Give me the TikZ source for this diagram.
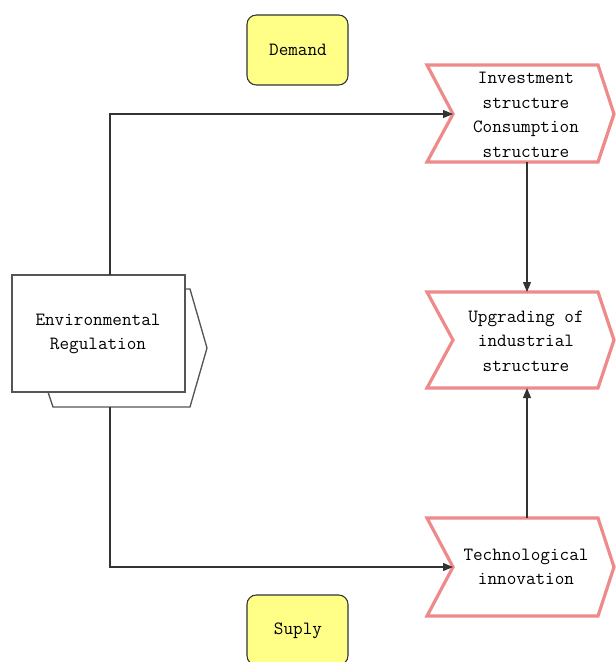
\documentclass[tikz,border=0pt]{standalone}
\usepackage{fontspec}
\usetikzlibrary{arrows.meta}
\definecolor{chevpink}{HTML}{EE8A8A}
\definecolor{boxyellow}{HTML}{FFFF88}
\definecolor{linegray}{HTML}{333333}
\definecolor{ergray}{HTML}{555555}
\tikzset{
  lbl/.style={font=\ttfamily\fontsize{14}{18.5}\selectfont, align=center, inner sep=0pt},
  chev/.style={draw=chevpink, line width=2.4pt, fill=white, line join=miter},
  ybox/.style={draw=linegray, line width=0.8pt, fill=boxyellow, rounded corners=7pt},
  conn/.style={draw=linegray, line width=0.8pt, -{Triangle[length=7.5pt,width=6pt]}},
  plain/.style={draw=ergray, line width=1pt},
}
\begin{document}
\begin{tikzpicture}[x=0.75pt,y=-0.75pt]
\useasboundingbox (0,0) rectangle (616,662);
\fill[white] (0,0) rectangle (616,662);

% yellow boxes
\draw[ybox] (247,15) rectangle (348,85);
\node[lbl] (demand) at (298,50) {Demand};
\draw[ybox] (247,595) rectangle (348,665);
\node[lbl] (suply) at (298,631) {Suply};

% chevrons
\draw[chev] (427,65) -- (598,65) -- (614,114) -- (598,162) -- (427,162) -- (453,114) -- cycle;
\node[lbl] (inv) at (526,115) {Investment\\structure\\Consumption\\structure};
\coordinate (invN) at (453,114);
\coordinate (invB) at (527,162);

\draw[chev] (427,292) -- (598,292) -- (614,340) -- (598,388) -- (427,388) -- (453,340) -- cycle;
\node[lbl] (upg) at (526,341) {Upgrading of\\industrial\\structure};
\coordinate (upgT) at (527,292);
\coordinate (upgB) at (527,388);

\draw[chev] (427,518) -- (598,518) -- (614,567) -- (598,616) -- (427,616) -- (453,567) -- cycle;
\node[lbl] (tech) at (526,567) {Technological\\innovation};
\coordinate (techN) at (453,567);
\coordinate (techT) at (527,518);

% environmental regulation
\draw[plain, fill=white] (48,289) -- (190,289) -- (207,348) -- (190,407) -- (53,407) -- (48,392) -- cycle;
\draw[plain, fill=white] (12,275) rectangle (185,392);
\node[lbl] (env) at (98,334) {Environmental\\Regulation};
\coordinate (envT) at (110,275);
\coordinate (envB) at (110,407);

% connectors
\draw[conn] (envT) |- (invN);
\draw[conn] (envB) |- (techN);
\draw[conn] (invB) -- (upgT);
\draw[conn] (techT) -- (upgB);
\end{tikzpicture}
\end{document}
